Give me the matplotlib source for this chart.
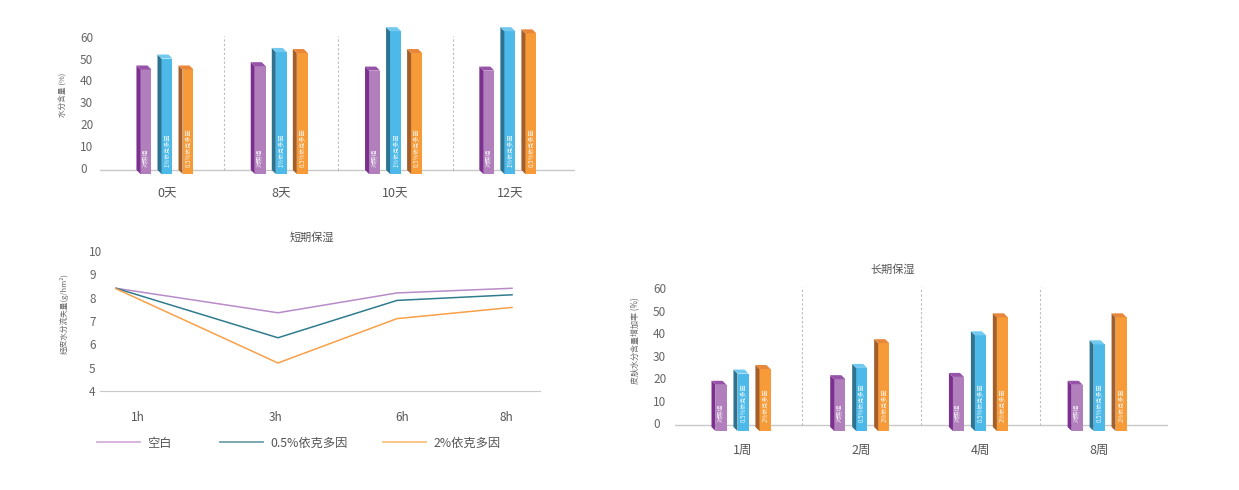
import matplotlib
matplotlib.use("Agg")
import matplotlib.pyplot as plt
from matplotlib.patches import Polygon
from matplotlib.lines import Line2D

plt.rcParams['font.family'] = ['Noto Sans CJK SC', 'DejaVu Sans']

# ---------------- data ----------------
top_days = ['0天', '8天', '10天', '12天']
top_series = ['对照组', '1%依克多因', '0.5%依克多因']
top_ctrl = [45, 46.5, 44.5, 44.5]
top_1pct = [50, 53, 62.5, 62.5]
top_05pct = [45, 52.5, 52.5, 61.5]

short_times = ['1h', '3h', '6h', '8h']
short_blank = [8.4, 7.35, 8.2, 8.4]
short_05 = [8.4, 6.28, 7.88, 8.12]
short_2 = [8.38, 5.2, 7.1, 7.58]
short_names = ['空白', '0.5%依克多因', '2%依克多因']

long_weeks = ['1周', '2周', '4周', '8周']
long_series = ['对照组', '0.5%依克多因', '2%依克多因']
long_ctrl = [17, 19.5, 20.5, 17]
long_05 = [22, 24.5, 39, 35]
long_2 = [24, 35.5, 47, 47]

# ---------------- layout / style ----------------
W, H = 1239, 490
fig = plt.figure(figsize=(W / 100, H / 100), dpi=100)

def px_axes(x0, y0, x1, y1):
    return fig.add_axes([x0 / W, 1 - y1 / H, (x1 - x0) / W, (y1 - y0) / H])

TXT = '#666666'
BASE = '#C8C8C8'
FACE = {
    0: ('#B07FBC', '#7B2F8F', '#9653A8'),
    1: ('#4DB9E9', '#2D7391', '#72C9EF'),
    2: ('#F79B39', '#A45E29', '#E8863A'),
}

def bar3d(ax, series_vals, names, offsets, width, base, dx, dy, baseline_y, sep_top):
    for si, vals in enumerate(series_vals):
        fc, sc, tc = FACE[si]
        xs = [i + offsets[si] for i in range(len(vals))]
        heights = [v - base for v in vals]
        cont = ax.bar(xs, heights, width=width, bottom=base, color=fc,
                      zorder=3, linewidth=0)
        for rect, v in zip(cont.patches, vals):
            x0 = rect.get_x()
            x1 = x0 + rect.get_width()
            b = rect.get_y()
            top = b + rect.get_height()
            ax.add_patch(Polygon([(x0, b), (x0 - dx, b + dy), (x0 - dx, top + dy), (x0, top)],
                                 closed=True, facecolor=sc, edgecolor='none', zorder=3))
            ax.add_patch(Polygon([(x0, top), (x0 - dx, top + dy), (x1 - dx, top + dy), (x1, top)],
                                 closed=True, facecolor=tc, edgecolor='none', zorder=3))
            ax.text((x0 + x1) / 2, 0.3, names[si], rotation=90, ha='center', va='bottom',
                    fontsize=4.4, color='white', alpha=0.9, zorder=4)
    n = len(series_vals[0])
    ax.axhline(baseline_y, color=BASE, lw=1, zorder=1)
    ax.vlines([i + 0.5 for i in range(n - 1)], baseline_y, sep_top, colors='#BBBBBB',
              linestyles=(0, (2, 2)), lw=0.8, zorder=1)
    for s in ax.spines.values():
        s.set_visible(False)

# ---------------- top chart ----------------
ax1 = px_axes(100, 20, 575, 178)
ax1.set_xlim(-0.586, 3.57)
ax1.set_ylim(-4.57, 67.6)
bar3d(ax1, [top_ctrl, top_1pct, top_05pct], top_series, [-0.184, 0.0, 0.184],
      0.096, -2.74, 0.035, 1.83, -0.9, 60.5)
ax1.set_yticks(range(0, 61, 10))
ax1.set_xticks(range(len(top_days)), top_days)
ax1.tick_params(axis='y', length=0, pad=14.4, labelsize=8.5, labelcolor=TXT)
ax1.tick_params(axis='x', length=0, pad=6.5, labelsize=9, labelcolor='#555555')
for t in ax1.get_yticklabels():
    t.set_ha('left')
fig.text(64 / W, 1 - 95 / H, '水分含量 (%)', rotation=90, ha='center', va='center',
         fontsize=5.5, color=TXT)

# ---------------- short-term line chart ----------------
ax2 = px_axes(100, 246, 540, 391)
pt_x = [0.0, 1.227, 2.129, 3.0]
lbl_x = [0.167, 1.205, 2.167, 2.955]
line_colors = ['#B98BC9', '#2F7C8F', '#F8A048']
for vals, c, nm in zip([short_blank, short_05, short_2], line_colors, short_names):
    ax2.plot(pt_x, vals, color=c, lw=1.1, label=nm)
ax2.set_xlim(-0.121, 3.212)
ax2.set_ylim(4, 10.21)
ax2.set_yticks(range(4, 11))
ax2.set_xticks(lbl_x, short_times)
for k, s in ax2.spines.items():
    s.set_visible(k == 'bottom')
ax2.spines['bottom'].set_color(BASE)
ax2.tick_params(axis='y', length=0, pad=7.9, labelsize=8.5, labelcolor=TXT)
ax2.tick_params(axis='x', length=0, pad=14.4, labelsize=8.5, labelcolor='#555555')
for t in ax2.get_yticklabels():
    t.set_ha('left')
fig.text(312 / W, 1 - 238 / H, '短期保湿', ha='center', va='center', fontsize=8, color='#555555')
fig.text(64 / W, 1 - 313 / H, '经皮水分流失量(g/hm²)', rotation=90, ha='center', va='center',
         fontsize=5.5, color=TXT)
leg_colors = ['#D6AEDD', '#6FA0AE', '#FBC27F']
leg_x = [97, 220, 383]
for c, nm, lx in zip(leg_colors, short_names, leg_x):
    fig.legend([Line2D([], [], color=c, lw=1.3)], [nm], loc='center left',
               bbox_to_anchor=(lx / W, 1 - 443 / H), frameon=False, borderpad=0,
               borderaxespad=0, handlelength=3.5, handletextpad=0.6, fontsize=8.8,
               labelcolor='#555555')

# ---------------- long-term chart ----------------
ax3 = px_axes(675, 280, 1168, 435)
ax3.set_xlim(-0.573, 3.58)
ax3.set_ylim(-5.33, 63.6)
bar3d(ax3, [long_ctrl, long_05, long_2], long_series, [-0.185, 0.0, 0.185],
      0.093, -3.56, 0.034, 1.78, -0.9, 60.5)
ax3.set_yticks(range(0, 61, 10))
ax3.set_xticks(range(len(long_weeks)), long_weeks)
ax3.tick_params(axis='y', length=0, pad=15.8, labelsize=8.5, labelcolor=TXT)
ax3.tick_params(axis='x', length=0, pad=6.5, labelsize=9, labelcolor='#555555')
for t in ax3.get_yticklabels():
    t.set_ha('left')
fig.text(893 / W, 1 - 270 / H, '长期保湿', ha='center', va='center', fontsize=8, color='#555555')
fig.text(636 / W, 1 - 341 / H, '皮肤水分含量增加率 (%)', rotation=90, ha='center', va='center',
         fontsize=5.8, color=TXT)

fig.savefig('out.png', dpi=100)
